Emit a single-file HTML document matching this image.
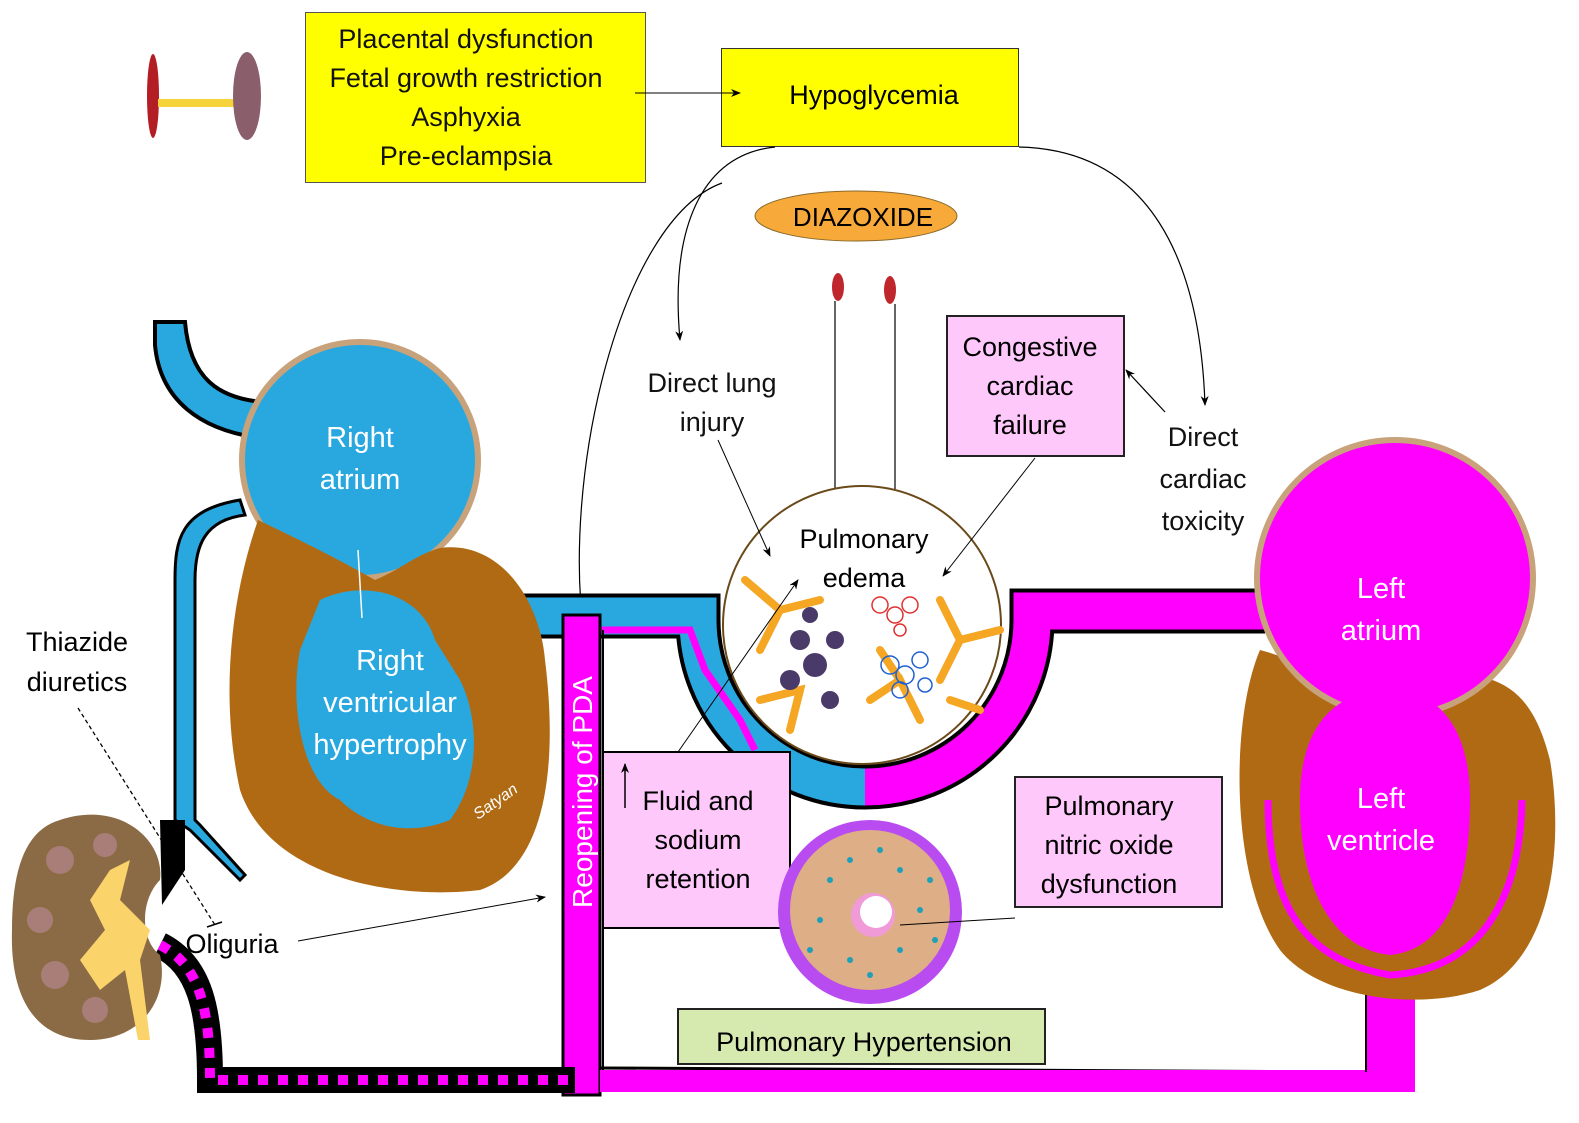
<!DOCTYPE html>
<html><head><meta charset="utf-8"><style>
html,body{margin:0;padding:0;background:#fff;}
svg{display:block;}
text{font-family:"Liberation Sans",sans-serif;}
</style></head><body>
<svg width="1579" height="1123" viewBox="0 0 1579 1123" xmlns="http://www.w3.org/2000/svg">
<defs>
<marker id="ar" markerWidth="10" markerHeight="8" refX="9" refY="4" orient="auto" markerUnits="userSpaceOnUse"><path d="M0,0 L10,4 L0,8 L3,4 Z" fill="#000"/></marker>
</defs>
<rect width="1579" height="1123" fill="#fff"/>

<ellipse cx="153" cy="96" rx="6" ry="42" fill="#b31d24"/>
<rect x="158" y="99" width="80" height="8" fill="#f6d33c"/>
<ellipse cx="247" cy="96" rx="14" ry="44" fill="#8a5e6a"/>

<rect x="305.5" y="12.5" width="340" height="170" fill="#ffff00" stroke="#555" stroke-width="1"/>
<g font-size="27" text-anchor="middle" fill="#111">
<text x="466" y="48">Placental dysfunction</text>
<text x="466" y="87">Fetal growth restriction</text>
<text x="466" y="126">Asphyxia</text>
<text x="466" y="165">Pre-eclampsia</text>
</g>
<rect x="721.5" y="48.5" width="297" height="98" fill="#ffff00" stroke="#333" stroke-width="1"/>
<text x="874" y="104" font-size="27" text-anchor="middle">Hypoglycemia</text>
<line x1="635" y1="93" x2="740" y2="93" stroke="#000" stroke-width="1" marker-end="url(#ar)"/>

<g fill="none" stroke="#000" stroke-width="1.2">
<path d="M775,147 C700,155 670,230 680,340" marker-end="url(#ar)"/>
<path d="M722,183 C620,220 560,480 585,640" marker-end="url(#ar)"/>
<path d="M1019,147 C1150,150 1200,260 1205,405" marker-end="url(#ar)"/>
</g>

<ellipse cx="856" cy="216" rx="101" ry="25" fill="#f7a93a" stroke="#8a6a2a" stroke-width="1"/>
<text x="863" y="226" font-size="26" text-anchor="middle">DIAZOXIDE</text>
<ellipse cx="838" cy="287" rx="6" ry="14" fill="#c0272d"/>
<ellipse cx="890" cy="290" rx="6" ry="14" fill="#c0272d"/>
<line x1="835" y1="301" x2="835" y2="490" stroke="#000" stroke-width="1.2"/>
<line x1="895" y1="304" x2="895" y2="490" stroke="#000" stroke-width="1.2"/>

<g font-size="27" text-anchor="middle" fill="#111">
<text x="712" y="392">Direct lung</text>
<text x="712" y="431">injury</text>
<text x="1203" y="446">Direct</text>
<text x="1203" y="488">cardiac</text>
<text x="1203" y="530">toxicity</text>
</g>
<rect x="947" y="316" width="177" height="140" fill="#ffc8fb" stroke="#222" stroke-width="2"/>
<g font-size="27" text-anchor="middle"><text x="1030" y="356">Congestive</text><text x="1030" y="395">cardiac</text><text x="1030" y="434">failure</text></g>
<line x1="1165" y1="412" x2="1126" y2="370" stroke="#000" stroke-width="1.2" marker-end="url(#ar)"/>

<path d="M432,616 L698,616 L698,620 A167,167 0 0 0 865,787" fill="none" stroke="#000" stroke-width="45"/>
<path d="M865,787 A167,167 0 0 0 1032,620 L1032,611 L1265,611" fill="none" stroke="#000" stroke-width="45"/>
<path d="M432,616 L698,616 L698,620 A167,167 0 0 0 866,787" fill="none" stroke="#29a8e0" stroke-width="37"/>
<path d="M865,787 A167,167 0 0 0 1032,620 L1032,611 L1265,611" fill="none" stroke="#ff00ff" stroke-width="37"/>
<rect x="420" y="590" width="14" height="55" fill="#fff"/>
<text x="512" y="628" font-size="24" text-anchor="middle">PA</text>
<path d="M600,630 L690,630 L705,670 L740,720 L755,750" stroke="#ff00ff" stroke-width="7" fill="none"/>

<circle cx="862" cy="625" r="139" fill="#fff" stroke="#6b4a1a" stroke-width="2"/>
<g stroke="#f5a623" stroke-width="8" fill="none" stroke-linecap="round">
<path d="M745,580 L780,610 L760,650 M780,610 L820,600"/>
<path d="M940,600 L960,640 L1000,630 M960,640 L940,680"/>
<path d="M870,700 L900,680 L920,720 M900,680 L880,650"/>
<path d="M760,700 L800,690 L790,730"/>
<path d="M950,700 L980,710"/>
</g>
<g fill="#4a3a6a"><circle cx="800" cy="640" r="10"/><circle cx="815" cy="665" r="12"/><circle cx="790" cy="680" r="10"/><circle cx="830" cy="700" r="9"/><circle cx="810" cy="615" r="8"/><circle cx="835" cy="640" r="9"/></g>
<g fill="none" stroke="#e03030" stroke-width="1.5"><circle cx="880" cy="605" r="8"/><circle cx="895" cy="615" r="8"/><circle cx="910" cy="605" r="8"/><circle cx="900" cy="630" r="6"/></g>
<g fill="none" stroke="#2060d0" stroke-width="1.5"><circle cx="890" cy="665" r="9"/><circle cx="905" cy="675" r="9"/><circle cx="920" cy="660" r="8"/><circle cx="900" cy="690" r="8"/><circle cx="925" cy="685" r="7"/></g>
<g font-size="27" text-anchor="middle"><text x="864" y="548">Pulmonary</text><text x="864" y="587">edema</text></g>
<line x1="1035" y1="458" x2="943" y2="576" stroke="#000" stroke-width="1" marker-end="url(#ar)"/>
<line x1="718" y1="440" x2="770" y2="556" stroke="#000" stroke-width="1" marker-end="url(#ar)"/>

<path d="M155,322 L155,345 C160,400 200,430 260,438 L262,402 C220,398 190,380 185,322 Z" fill="#29a8e0" stroke="#000" stroke-width="4"/>
<path d="M240,500 C180,510 175,540 175,580 L175,820 L190,830 L240,880 L245,875 L200,825 L195,820 L195,580 C195,545 205,520 245,515 Z" fill="#29a8e0" stroke="#000" stroke-width="3"/>
<path d="M160,820 L185,820 L185,870 L162,905 Z" fill="#000"/>
<circle cx="360" cy="460" r="118" fill="#29a8e0" stroke="#c8a27a" stroke-width="6"/>
<path d="M258,520 C230,600 220,700 240,790 C270,880 400,900 480,890 C540,870 560,780 545,660 C540,600 500,540 440,548 C415,555 400,570 375,580 C340,560 300,540 258,520 Z" fill="#b06a14"/>
<path d="M320,600 C360,580 420,590 435,640 L460,680 C480,720 480,780 450,820 C400,840 360,820 340,800 C300,780 290,700 300,650 Z" fill="#29a8e0"/>
<g font-size="29" text-anchor="middle" fill="#fff">
<text x="360" y="447">Right</text><text x="360" y="489">atrium</text>
<text x="390" y="670">Right</text><text x="390" y="712">ventricular</text><text x="390" y="754">hypertrophy</text>
</g>
<line x1="362" y1="618" x2="358" y2="550" stroke="#fff" stroke-width="1.5"/>
<text x="478" y="820" font-size="16" fill="#fff" font-style="italic" font-family="Liberation Serif,serif" transform="rotate(-35 478 820)">Satyan</text>

<rect x="563" y="615" width="37" height="480" fill="#ff00ff" stroke="#000" stroke-width="3"/>
<text x="0" y="0" font-size="28" fill="#fff" text-anchor="middle" transform="translate(592,792) rotate(-90)">Reopening of PDA</text>
<path d="M600,1068 L1368,1072" stroke="#000" stroke-width="3"/>
<rect x="600" y="1070" width="815" height="22" fill="#ff00ff"/>
<rect x="1365" y="935" width="50" height="157" fill="#ff00ff"/>
<line x1="1366" y1="950" x2="1366" y2="1072" stroke="#000" stroke-width="2"/>
<path d="M603,630 L603,1070" stroke="#000" stroke-width="2" fill="none"/>

<path d="M160,945 C200,965 210,1010 210,1080 L575,1080" fill="none" stroke="#000" stroke-width="26"/>
<path d="M160,945 C200,965 210,1010 210,1080 L575,1080" fill="none" stroke="#ff00ff" stroke-width="10" stroke-dasharray="10,10"/>

<path d="M60,820 C120,800 165,840 160,880 C140,900 140,940 160,955 C170,1000 140,1040 90,1040 C30,1040 10,990 12,930 C12,870 25,830 60,820 Z" fill="#8b6b45"/>
<path d="M110,870 L130,860 L120,900 L150,930 L140,960 L150,1040 L138,1040 L125,970 L100,990 L80,960 L105,930 L90,900 Z" fill="#fbd36b"/>
<g fill="#a97e78"><circle cx="60" cy="860" r="14"/><circle cx="40" cy="920" r="13"/><circle cx="55" cy="975" r="14"/><circle cx="95" cy="1010" r="13"/><circle cx="105" cy="845" r="12"/></g>

<g font-size="27" text-anchor="middle"><text x="77" y="651">Thiazide</text><text x="77" y="691">diuretics</text></g>
<line x1="78" y1="708" x2="215" y2="925" stroke="#000" stroke-width="1.3" stroke-dasharray="4,3"/>
<line x1="207" y1="927" x2="222" y2="922" stroke="#000" stroke-width="1.5"/>
<text x="232" y="953" font-size="27" text-anchor="middle">Oliguria</text>
<line x1="298" y1="941" x2="545" y2="897" stroke="#000" stroke-width="1" marker-end="url(#ar)"/>

<rect x="603" y="752" width="187" height="176" fill="#ffc8fb" stroke="#000" stroke-width="2"/>
<line x1="625" y1="808" x2="625" y2="764" stroke="#000" stroke-width="1.5" marker-end="url(#ar)"/>
<g font-size="27" text-anchor="middle"><text x="698" y="810">Fluid and</text><text x="698" y="849">sodium</text><text x="698" y="888">retention</text></g>
<line x1="678" y1="752" x2="798" y2="580" stroke="#000" stroke-width="1" marker-end="url(#ar)"/>

<circle cx="870" cy="912" r="92" fill="#b94cf0"/>
<circle cx="870" cy="910" r="80" fill="#deae86"/>
<g fill="#1fa0b8"><circle cx="830" cy="880" r="3"/><circle cx="850" cy="860" r="3"/><circle cx="900" cy="870" r="3"/><circle cx="920" cy="910" r="3"/><circle cx="900" cy="950" r="3"/><circle cx="850" cy="960" r="3"/><circle cx="820" cy="920" r="3"/><circle cx="880" cy="850" r="3"/><circle cx="930" cy="880" r="3"/><circle cx="810" cy="950" r="3"/><circle cx="870" cy="975" r="3"/><circle cx="935" cy="940" r="3"/></g>
<circle cx="873" cy="915" r="22" fill="#f09bd8"/>
<circle cx="876" cy="912" r="16" fill="#fff"/>
<line x1="900" y1="925" x2="1015" y2="918" stroke="#000" stroke-width="1"/>

<rect x="1015" y="777" width="207" height="130" fill="#ffc8fb" stroke="#222" stroke-width="2"/>
<g font-size="27" text-anchor="middle"><text x="1109" y="815">Pulmonary</text><text x="1109" y="854">nitric oxide</text><text x="1109" y="893">dysfunction</text></g>

<rect x="678" y="1009" width="367" height="55" fill="#d6eab0" stroke="#222" stroke-width="2"/>
<text x="864" y="1051" font-size="27" text-anchor="middle">Pulmonary Hypertension</text>

<path d="M1260,650 C1230,720 1230,880 1280,950 C1320,1000 1420,1010 1480,990 C1550,960 1565,850 1550,760 C1535,700 1510,680 1470,675 C1440,690 1420,700 1400,710 C1350,690 1300,660 1260,650 Z" fill="#b06a14"/>
<circle cx="1395" cy="578" r="138" fill="#ff00ff" stroke="#c8a27a" stroke-width="6"/>
<path d="M1300,800 C1300,720 1340,690 1390,690 C1440,690 1470,730 1470,800 C1470,900 1440,950 1390,955 C1340,950 1300,900 1300,800 Z" fill="#ff00ff"/>
<path d="M1268,800 C1268,900 1300,960 1390,975 C1480,970 1520,900 1522,800" fill="none" stroke="#ff00ff" stroke-width="7"/>
<g font-size="29" text-anchor="middle" fill="#fff">
<text x="1381" y="598">Left</text><text x="1381" y="640">atrium</text>
<text x="1381" y="808">Left</text><text x="1381" y="850">ventricle</text>
</g>
</svg>
</body></html>
